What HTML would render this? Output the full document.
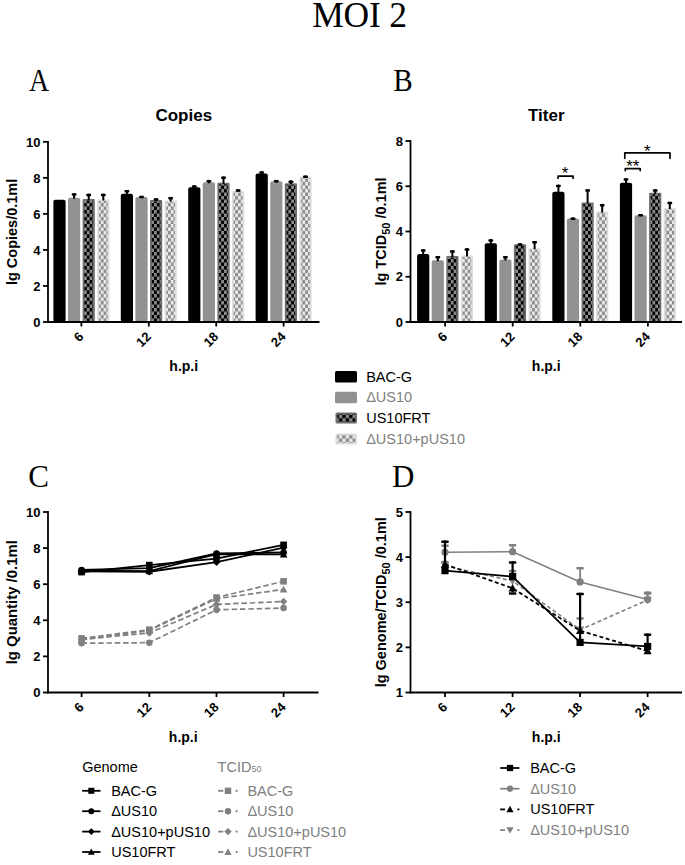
<!DOCTYPE html>
<html><head><meta charset="utf-8"><title>MOI 2</title>
<style>
html,body{margin:0;padding:0;background:#fff;}
body{width:685px;height:865px;overflow:hidden;}
svg{display:block;}
text{font-family:"Liberation Sans", sans-serif;}
.tl{font-size:13px;font-weight:bold;}
.yl{font-size:14.5px;font-weight:bold;}
.xl{font-size:14px;font-weight:bold;}
.ct{font-size:17px;font-weight:bold;}
.st{font-size:17px;}
.lg{font-size:14.5px;}
.pl{font-family:"Liberation Serif", serif;font-size:31px;}
.ti{font-family:"Liberation Serif", serif;font-size:35.5px;}
</style></head>
<body>
<svg width="685" height="865" viewBox="0 0 685 865">
<defs>
<pattern id="pdark" patternUnits="userSpaceOnUse" width="5.6" height="7" x="0" y="0">
<rect width="5.6" height="7" fill="#8a8a8a"/>
<rect x="0" y="0" width="2.8" height="3.5" fill="#000"/>
<rect x="2.8" y="3.5" width="2.8" height="3.5" fill="#000"/>
</pattern>
<pattern id="plight" patternUnits="userSpaceOnUse" width="5.6" height="7" x="0" y="0">
<rect width="5.6" height="7" fill="#e8e8e8"/>
<rect x="0" y="0" width="2.8" height="3.5" fill="#8e8e8e"/>
<rect x="2.8" y="3.5" width="2.8" height="3.5" fill="#8e8e8e"/>
</pattern>
<pattern id="pdarkL" patternUnits="userSpaceOnUse" width="6.8" height="6.8" x="335.5" y="0">
<rect width="6.8" height="6.8" fill="#8a8a8a"/>
<rect x="0" y="0" width="3.4" height="3.4" fill="#000"/>
<rect x="3.4" y="3.4" width="3.4" height="3.4" fill="#000"/>
</pattern>
<pattern id="plightL" patternUnits="userSpaceOnUse" width="6.8" height="6.8" x="335.5" y="0">
<rect width="6.8" height="6.8" fill="#e8e8e8"/>
<rect x="0" y="0" width="3.4" height="3.4" fill="#8e8e8e"/>
<rect x="3.4" y="3.4" width="3.4" height="3.4" fill="#8e8e8e"/>
</pattern>
</defs>
<rect width="685" height="865" fill="#fff"/>
<text x="359.5" y="26.6" text-anchor="middle" class="ti" letter-spacing="-0.2">MOI 2</text>
<text transform="translate(29,90.9) scale(0.9,1)" class="pl">A</text>
<text transform="translate(393.3,90.9) scale(0.94,1)" class="pl">B</text>
<text transform="translate(28.3,487.2) scale(1.0,1)" class="pl">C</text>
<text transform="translate(392,486.6) scale(1.0,1)" class="pl">D</text>
<text x="183.75" y="120.5" text-anchor="middle" class="ct">Copies</text>
<rect x="53.4" y="199.85" width="12.2" height="122.15" fill="#000" rx="2"/>
<rect x="68" y="197.67" width="12.2" height="124.33" fill="#929292" rx="2"/>
<line x1="74.1" y1="198.67" x2="74.1" y2="193.14" stroke="#000" stroke-width="2.0"/>
<rect x="71.7" y="193.14" width="4.8" height="2.5" rx="0.8" fill="#000"/>
<rect x="82.6" y="198.94" width="12.2" height="123.06" fill="#6e6e6e" rx="1"/>
<rect x="84.4" y="200.44" width="8.6" height="121.56" fill="url(#pdark)"/>
<line x1="88.7" y1="199.94" x2="88.7" y2="193.68" stroke="#000" stroke-width="2.0"/>
<rect x="86.3" y="193.68" width="4.8" height="2.5" rx="0.8" fill="#000"/>
<rect x="97.2" y="199.49" width="12.2" height="122.51" fill="#dcdcdc" rx="1"/>
<rect x="99" y="200.99" width="8.6" height="121.01" fill="url(#plight)"/>
<line x1="103.3" y1="200.49" x2="103.3" y2="193.68" stroke="#000" stroke-width="2.0"/>
<rect x="100.9" y="193.68" width="4.8" height="2.5" rx="0.8" fill="#000"/>
<rect x="120.8" y="193.86" width="12.2" height="128.14" fill="#000" rx="2"/>
<line x1="126.9" y1="194.86" x2="126.9" y2="190.05" stroke="#000" stroke-width="2.0"/>
<rect x="124.5" y="190.05" width="4.8" height="2.5" rx="0.8" fill="#000"/>
<rect x="135.4" y="196.95" width="12.2" height="125.05" fill="#929292" rx="2"/>
<line x1="141.5" y1="197.95" x2="141.5" y2="195.86" stroke="#000" stroke-width="2.0"/>
<rect x="139.1" y="195.86" width="4.8" height="2.5" rx="0.8" fill="#000"/>
<rect x="150" y="200.03" width="12.2" height="121.97" fill="#6e6e6e" rx="1"/>
<rect x="151.8" y="201.53" width="8.6" height="120.47" fill="url(#pdark)"/>
<line x1="156.1" y1="201.03" x2="156.1" y2="198.22" stroke="#000" stroke-width="2.0"/>
<rect x="153.7" y="198.22" width="4.8" height="2.5" rx="0.8" fill="#000"/>
<rect x="164.6" y="200.58" width="12.2" height="121.42" fill="#dcdcdc" rx="1"/>
<rect x="166.4" y="202.08" width="8.6" height="119.92" fill="url(#plight)"/>
<line x1="170.7" y1="201.58" x2="170.7" y2="196.95" stroke="#000" stroke-width="2.0"/>
<rect x="168.3" y="196.95" width="4.8" height="2.5" rx="0.8" fill="#000"/>
<rect x="188.2" y="187.33" width="12.2" height="134.67" fill="#000" rx="2"/>
<line x1="194.3" y1="188.33" x2="194.3" y2="185.33" stroke="#000" stroke-width="2.0"/>
<rect x="191.9" y="185.33" width="4.8" height="2.5" rx="0.8" fill="#000"/>
<rect x="202.8" y="182.25" width="12.2" height="139.75" fill="#929292" rx="2"/>
<line x1="208.9" y1="183.25" x2="208.9" y2="179.89" stroke="#000" stroke-width="2.0"/>
<rect x="206.5" y="179.89" width="4.8" height="2.5" rx="0.8" fill="#000"/>
<rect x="217.4" y="182.79" width="12.2" height="139.21" fill="#6e6e6e" rx="1"/>
<rect x="219.2" y="184.29" width="8.6" height="137.71" fill="url(#pdark)"/>
<line x1="223.5" y1="183.79" x2="223.5" y2="176.44" stroke="#000" stroke-width="2.0"/>
<rect x="221.1" y="176.44" width="4.8" height="2.5" rx="0.8" fill="#000"/>
<rect x="232" y="190.96" width="12.2" height="131.04" fill="#dcdcdc" rx="1"/>
<rect x="233.8" y="192.46" width="8.6" height="129.54" fill="url(#plight)"/>
<line x1="238.1" y1="191.96" x2="238.1" y2="189.32" stroke="#000" stroke-width="2.0"/>
<rect x="235.7" y="189.32" width="4.8" height="2.5" rx="0.8" fill="#000"/>
<rect x="255.6" y="173.53" width="12.2" height="148.47" fill="#000" rx="2"/>
<line x1="261.7" y1="174.53" x2="261.7" y2="171.35" stroke="#000" stroke-width="2.0"/>
<rect x="259.3" y="171.35" width="4.8" height="2.5" rx="0.8" fill="#000"/>
<rect x="270.2" y="181.16" width="12.2" height="140.84" fill="#929292" rx="2"/>
<line x1="276.3" y1="182.16" x2="276.3" y2="179.89" stroke="#000" stroke-width="2.0"/>
<rect x="273.9" y="179.89" width="4.8" height="2.5" rx="0.8" fill="#000"/>
<rect x="284.8" y="183.15" width="12.2" height="138.85" fill="#6e6e6e" rx="1"/>
<rect x="286.6" y="184.65" width="8.6" height="137.35" fill="url(#pdark)"/>
<line x1="290.9" y1="184.15" x2="290.9" y2="180.43" stroke="#000" stroke-width="2.0"/>
<rect x="288.5" y="180.43" width="4.8" height="2.5" rx="0.8" fill="#000"/>
<rect x="299.4" y="176.44" width="12.2" height="145.56" fill="#dcdcdc" rx="1"/>
<rect x="301.2" y="177.94" width="8.6" height="144.06" fill="url(#plight)"/>
<line x1="305.5" y1="177.44" x2="305.5" y2="175.53" stroke="#000" stroke-width="2.0"/>
<rect x="303.1" y="175.53" width="4.8" height="2.5" rx="0.8" fill="#000"/>
<line x1="48" y1="140.9" x2="48" y2="322.9" stroke="#000" stroke-width="1.8"/>
<line x1="47.1" y1="322" x2="319.5" y2="322" stroke="#000" stroke-width="1.8"/>
<line x1="43" y1="322" x2="48" y2="322" stroke="#000" stroke-width="1.8"/>
<text x="40.5" y="326.7" text-anchor="end" class="tl">0</text>
<line x1="43" y1="285.96" x2="48" y2="285.96" stroke="#000" stroke-width="1.8"/>
<text x="40.5" y="290.66" text-anchor="end" class="tl">2</text>
<line x1="43" y1="249.92" x2="48" y2="249.92" stroke="#000" stroke-width="1.8"/>
<text x="40.5" y="254.62" text-anchor="end" class="tl">4</text>
<line x1="43" y1="213.88" x2="48" y2="213.88" stroke="#000" stroke-width="1.8"/>
<text x="40.5" y="218.58" text-anchor="end" class="tl">6</text>
<line x1="43" y1="177.84" x2="48" y2="177.84" stroke="#000" stroke-width="1.8"/>
<text x="40.5" y="182.54" text-anchor="end" class="tl">8</text>
<line x1="43" y1="141.8" x2="48" y2="141.8" stroke="#000" stroke-width="1.8"/>
<text x="40.5" y="146.5" text-anchor="end" class="tl">10</text>
<line x1="81.4" y1="322" x2="81.4" y2="326.5" stroke="#000" stroke-width="1.8"/>
<text transform="translate(84.4,337.5) rotate(-45)" text-anchor="end" class="tl">6</text>
<line x1="148.8" y1="322" x2="148.8" y2="326.5" stroke="#000" stroke-width="1.8"/>
<text transform="translate(151.8,337.5) rotate(-45)" text-anchor="end" class="tl">12</text>
<line x1="216.2" y1="322" x2="216.2" y2="326.5" stroke="#000" stroke-width="1.8"/>
<text transform="translate(219.2,337.5) rotate(-45)" text-anchor="end" class="tl">18</text>
<line x1="283.6" y1="322" x2="283.6" y2="326.5" stroke="#000" stroke-width="1.8"/>
<text transform="translate(286.6,337.5) rotate(-45)" text-anchor="end" class="tl">24</text>
<text transform="translate(17.2,231.9) rotate(-90)" text-anchor="middle" class="yl">lg Copies/0.1ml</text>
<text x="183.75" y="371" text-anchor="middle" class="xl">h.p.i</text>
<text x="546.25" y="120.5" text-anchor="middle" class="ct">Titer</text>
<rect x="417.1" y="254.12" width="12.2" height="67.88" fill="#000" rx="2"/>
<line x1="423.2" y1="255.12" x2="423.2" y2="249.37" stroke="#000" stroke-width="2.0"/>
<rect x="420.8" y="249.37" width="4.8" height="2.5" rx="0.8" fill="#000"/>
<rect x="431.7" y="260.23" width="12.2" height="61.77" fill="#929292" rx="2"/>
<line x1="437.8" y1="261.23" x2="437.8" y2="255.94" stroke="#000" stroke-width="2.0"/>
<rect x="435.4" y="255.94" width="4.8" height="2.5" rx="0.8" fill="#000"/>
<rect x="446.3" y="255.94" width="12.2" height="66.06" fill="#6e6e6e" rx="1"/>
<rect x="448.1" y="257.44" width="8.6" height="64.56" fill="url(#pdark)"/>
<line x1="452.4" y1="256.94" x2="452.4" y2="250.28" stroke="#000" stroke-width="2.0"/>
<rect x="450" y="250.28" width="4.8" height="2.5" rx="0.8" fill="#000"/>
<rect x="460.9" y="255.48" width="12.2" height="66.52" fill="#dcdcdc" rx="1"/>
<rect x="462.7" y="256.98" width="8.6" height="65.02" fill="url(#plight)"/>
<line x1="467" y1="256.48" x2="467" y2="248.24" stroke="#000" stroke-width="2.0"/>
<rect x="464.6" y="248.24" width="4.8" height="2.5" rx="0.8" fill="#000"/>
<rect x="484.7" y="243.26" width="12.2" height="78.74" fill="#000" rx="2"/>
<line x1="490.8" y1="244.26" x2="490.8" y2="239.19" stroke="#000" stroke-width="2.0"/>
<rect x="488.4" y="239.19" width="4.8" height="2.5" rx="0.8" fill="#000"/>
<rect x="499.3" y="259.56" width="12.2" height="62.44" fill="#929292" rx="2"/>
<line x1="505.4" y1="260.56" x2="505.4" y2="255.94" stroke="#000" stroke-width="2.0"/>
<rect x="503" y="255.94" width="4.8" height="2.5" rx="0.8" fill="#000"/>
<rect x="513.9" y="244.17" width="12.2" height="77.83" fill="#6e6e6e" rx="1"/>
<rect x="515.7" y="245.67" width="8.6" height="76.33" fill="url(#pdark)"/>
<line x1="520" y1="245.17" x2="520" y2="243.26" stroke="#000" stroke-width="2.0"/>
<rect x="517.6" y="243.26" width="4.8" height="2.5" rx="0.8" fill="#000"/>
<rect x="528.5" y="248.24" width="12.2" height="73.76" fill="#dcdcdc" rx="1"/>
<rect x="530.3" y="249.74" width="8.6" height="72.26" fill="url(#plight)"/>
<line x1="534.6" y1="249.24" x2="534.6" y2="241" stroke="#000" stroke-width="2.0"/>
<rect x="532.2" y="241" width="4.8" height="2.5" rx="0.8" fill="#000"/>
<rect x="552.3" y="191.68" width="12.2" height="130.32" fill="#000" rx="2"/>
<line x1="558.4" y1="192.68" x2="558.4" y2="184.67" stroke="#000" stroke-width="2.0"/>
<rect x="556" y="184.67" width="4.8" height="2.5" rx="0.8" fill="#000"/>
<rect x="566.9" y="218.38" width="12.2" height="103.62" fill="#929292" rx="2"/>
<line x1="573" y1="219.38" x2="573" y2="217.47" stroke="#000" stroke-width="2.0"/>
<rect x="570.6" y="217.47" width="4.8" height="2.5" rx="0.8" fill="#000"/>
<rect x="581.5" y="202.54" width="12.2" height="119.46" fill="#6e6e6e" rx="1"/>
<rect x="583.3" y="204.04" width="8.6" height="117.96" fill="url(#pdark)"/>
<line x1="587.6" y1="203.54" x2="587.6" y2="189.19" stroke="#000" stroke-width="2.0"/>
<rect x="585.2" y="189.19" width="4.8" height="2.5" rx="0.8" fill="#000"/>
<rect x="596.1" y="211.59" width="12.2" height="110.41" fill="#dcdcdc" rx="1"/>
<rect x="597.9" y="213.09" width="8.6" height="108.91" fill="url(#plight)"/>
<line x1="602.2" y1="212.59" x2="602.2" y2="203.9" stroke="#000" stroke-width="2.0"/>
<rect x="599.8" y="203.9" width="4.8" height="2.5" rx="0.8" fill="#000"/>
<rect x="619.9" y="182.63" width="12.2" height="139.37" fill="#000" rx="2"/>
<line x1="626" y1="183.63" x2="626" y2="178.33" stroke="#000" stroke-width="2.0"/>
<rect x="623.6" y="178.33" width="4.8" height="2.5" rx="0.8" fill="#000"/>
<rect x="634.5" y="215.21" width="12.2" height="106.79" fill="#929292" rx="2"/>
<line x1="640.6" y1="216.21" x2="640.6" y2="214.08" stroke="#000" stroke-width="2.0"/>
<rect x="638.2" y="214.08" width="4.8" height="2.5" rx="0.8" fill="#000"/>
<rect x="649.1" y="192.81" width="12.2" height="129.19" fill="#6e6e6e" rx="1"/>
<rect x="650.9" y="194.31" width="8.6" height="127.69" fill="url(#pdark)"/>
<line x1="655.2" y1="193.81" x2="655.2" y2="189.19" stroke="#000" stroke-width="2.0"/>
<rect x="652.8" y="189.19" width="4.8" height="2.5" rx="0.8" fill="#000"/>
<rect x="663.7" y="207.97" width="12.2" height="114.03" fill="#dcdcdc" rx="1"/>
<rect x="665.5" y="209.47" width="8.6" height="112.53" fill="url(#plight)"/>
<line x1="669.8" y1="208.97" x2="669.8" y2="201.86" stroke="#000" stroke-width="2.0"/>
<rect x="667.4" y="201.86" width="4.8" height="2.5" rx="0.8" fill="#000"/>
<line x1="410.5" y1="140.1" x2="410.5" y2="322.9" stroke="#000" stroke-width="1.8"/>
<line x1="409.6" y1="322" x2="682" y2="322" stroke="#000" stroke-width="1.8"/>
<line x1="405.5" y1="322" x2="410.5" y2="322" stroke="#000" stroke-width="1.8"/>
<text x="403" y="326.7" text-anchor="end" class="tl">0</text>
<line x1="405.5" y1="276.75" x2="410.5" y2="276.75" stroke="#000" stroke-width="1.8"/>
<text x="403" y="281.45" text-anchor="end" class="tl">2</text>
<line x1="405.5" y1="231.5" x2="410.5" y2="231.5" stroke="#000" stroke-width="1.8"/>
<text x="403" y="236.2" text-anchor="end" class="tl">4</text>
<line x1="405.5" y1="186.25" x2="410.5" y2="186.25" stroke="#000" stroke-width="1.8"/>
<text x="403" y="190.95" text-anchor="end" class="tl">6</text>
<line x1="405.5" y1="141" x2="410.5" y2="141" stroke="#000" stroke-width="1.8"/>
<text x="403" y="145.7" text-anchor="end" class="tl">8</text>
<line x1="445.1" y1="322" x2="445.1" y2="326.5" stroke="#000" stroke-width="1.8"/>
<text transform="translate(448.1,337.5) rotate(-45)" text-anchor="end" class="tl">6</text>
<line x1="512.7" y1="322" x2="512.7" y2="326.5" stroke="#000" stroke-width="1.8"/>
<text transform="translate(515.7,337.5) rotate(-45)" text-anchor="end" class="tl">12</text>
<line x1="580.3" y1="322" x2="580.3" y2="326.5" stroke="#000" stroke-width="1.8"/>
<text transform="translate(583.3,337.5) rotate(-45)" text-anchor="end" class="tl">18</text>
<line x1="647.9" y1="322" x2="647.9" y2="326.5" stroke="#000" stroke-width="1.8"/>
<text transform="translate(650.9,337.5) rotate(-45)" text-anchor="end" class="tl">24</text>
<text transform="translate(386.4,231.5) rotate(-90)" text-anchor="middle" class="yl">lg TCID<tspan font-size="11" dy="3.4">50</tspan><tspan dy="-3.4"> /0.1ml</tspan></text>
<text x="546.25" y="371" text-anchor="middle" class="xl">h.p.i</text>
<path d="M558.1,178.2 L558.1,176.1 L573.1,176.1 L573.1,178.2" fill="none" stroke="#000" stroke-width="1.7" stroke-linejoin="round" stroke-linecap="round"/>
<text x="565.1" y="178.5" text-anchor="middle" class="st">*</text>
<path d="M625.3,170.6 L625.3,168.6 L640.2,168.6 L640.2,170.6" fill="none" stroke="#000" stroke-width="1.7" stroke-linejoin="round" stroke-linecap="round"/>
<text x="632.8" y="171.5" text-anchor="middle" class="st">**</text>
<path d="M624.8,158.3 L624.8,152.9 L670,152.9 L670,158.3" fill="none" stroke="#000" stroke-width="1.7" stroke-linejoin="round" stroke-linecap="round"/>
<text x="647.3" y="157.3" text-anchor="middle" class="st">*</text>
<rect x="335" y="371" width="22" height="11.5" rx="1.5" fill="#000"/>
<text x="366.2" y="381.6" class="lg" fill="#000">BAC-G</text>
<rect x="335" y="391.8" width="22" height="11.5" rx="1.5" fill="#929292"/>
<text x="366.2" y="402.4" class="lg" fill="#808080">ΔUS10</text>
<rect x="335.5" y="412.6" width="21.5" height="11" rx="1.5" fill="#6e6e6e"/>
<rect x="337.2" y="414.3" width="18" height="7.6" fill="url(#pdarkL)"/>
<text x="366.2" y="423.2" class="lg" fill="#000">US10FRT</text>
<rect x="335.5" y="433.4" width="21.5" height="11" rx="1.5" fill="#dcdcdc"/>
<rect x="337.2" y="435.1" width="18" height="7.6" fill="url(#plightL)"/>
<text x="366.2" y="444" class="lg" fill="#808080">ΔUS10+pUS10</text>
<line x1="48" y1="511.1" x2="48" y2="693.4" stroke="#000" stroke-width="1.8"/>
<line x1="47.1" y1="692.5" x2="318.5" y2="692.5" stroke="#000" stroke-width="1.8"/>
<line x1="43" y1="692.5" x2="48" y2="692.5" stroke="#000" stroke-width="1.8"/>
<text x="40.5" y="697.2" text-anchor="end" class="tl">0</text>
<line x1="43" y1="656.4" x2="48" y2="656.4" stroke="#000" stroke-width="1.8"/>
<text x="40.5" y="661.1" text-anchor="end" class="tl">2</text>
<line x1="43" y1="620.3" x2="48" y2="620.3" stroke="#000" stroke-width="1.8"/>
<text x="40.5" y="625" text-anchor="end" class="tl">4</text>
<line x1="43" y1="584.2" x2="48" y2="584.2" stroke="#000" stroke-width="1.8"/>
<text x="40.5" y="588.9" text-anchor="end" class="tl">6</text>
<line x1="43" y1="548.1" x2="48" y2="548.1" stroke="#000" stroke-width="1.8"/>
<text x="40.5" y="552.8" text-anchor="end" class="tl">8</text>
<line x1="43" y1="512" x2="48" y2="512" stroke="#000" stroke-width="1.8"/>
<text x="40.5" y="516.7" text-anchor="end" class="tl">10</text>
<line x1="81.6" y1="692.5" x2="81.6" y2="697" stroke="#000" stroke-width="1.8"/>
<text transform="translate(84.6,708) rotate(-45)" text-anchor="end" class="tl">6</text>
<line x1="149.3" y1="692.5" x2="149.3" y2="697" stroke="#000" stroke-width="1.8"/>
<text transform="translate(152.3,708) rotate(-45)" text-anchor="end" class="tl">12</text>
<line x1="216.5" y1="692.5" x2="216.5" y2="697" stroke="#000" stroke-width="1.8"/>
<text transform="translate(219.5,708) rotate(-45)" text-anchor="end" class="tl">18</text>
<line x1="283.6" y1="692.5" x2="283.6" y2="697" stroke="#000" stroke-width="1.8"/>
<text transform="translate(286.6,708) rotate(-45)" text-anchor="end" class="tl">24</text>
<text transform="translate(17.2,602.25) rotate(-90)" text-anchor="middle" class="yl" style="font-size:14.9px">lg Quantity /0.1ml</text>
<text x="183.25" y="742" text-anchor="middle" class="xl">h.p.i</text>
<polyline points="81.6,643.22 149.3,642.68 216.5,609.83 283.6,608.03" fill="none" stroke="#808080" stroke-width="1.7" stroke-dasharray="5.5,2.8"/>
<circle cx="81.6" cy="643.22" r="3.3" fill="#808080"/>
<circle cx="149.3" cy="642.68" r="3.3" fill="#808080"/>
<circle cx="216.5" cy="609.83" r="3.3" fill="#808080"/>
<circle cx="283.6" cy="608.03" r="3.3" fill="#808080"/>
<polyline points="81.6,639.43 149.3,632.93 216.5,604.42 283.6,601.53" fill="none" stroke="#808080" stroke-width="1.7" stroke-dasharray="5.5,2.8"/>
<path d="M81.6,635.64 L85.39,639.43 L81.6,643.23 L77.8,639.43Z" fill="#808080"/>
<path d="M149.3,629.14 L153.09,632.93 L149.3,636.73 L145.51,632.93Z" fill="#808080"/>
<path d="M216.5,600.62 L220.29,604.42 L216.5,608.21 L212.71,604.42Z" fill="#808080"/>
<path d="M283.6,597.73 L287.4,601.53 L283.6,605.32 L279.81,601.53Z" fill="#808080"/>
<polyline points="81.6,639.79 149.3,630.41 216.5,598.64 283.6,589.43" fill="none" stroke="#808080" stroke-width="1.7" stroke-dasharray="5.5,2.8"/>
<path d="M81.6,636 L85.39,642.83 L77.8,642.83Z" fill="#808080"/>
<path d="M149.3,626.61 L153.09,633.44 L145.51,633.44Z" fill="#808080"/>
<path d="M216.5,594.85 L220.29,601.68 L212.71,601.68Z" fill="#808080"/>
<path d="M283.6,585.64 L287.4,592.47 L279.81,592.47Z" fill="#808080"/>
<polyline points="81.6,638.35 149.3,629.69 216.5,597.56 283.6,581.31" fill="none" stroke="#808080" stroke-width="1.7" stroke-dasharray="5.5,2.8"/>
<rect x="78.3" y="635.05" width="6.6" height="6.6" fill="#808080"/>
<rect x="146" y="626.39" width="6.6" height="6.6" fill="#808080"/>
<rect x="213.2" y="594.26" width="6.6" height="6.6" fill="#808080"/>
<rect x="280.3" y="578.01" width="6.6" height="6.6" fill="#808080"/>
<polyline points="81.6,569.94 149.3,568.14 216.5,553.51 283.6,552.43" fill="none" stroke="#000" stroke-width="1.8"/>
<circle cx="81.6" cy="569.94" r="3.3" fill="#000"/>
<circle cx="149.3" cy="568.14" r="3.3" fill="#000"/>
<circle cx="216.5" cy="553.51" r="3.3" fill="#000"/>
<circle cx="283.6" cy="552.43" r="3.3" fill="#000"/>
<polyline points="81.6,571.38 149.3,571.75 216.5,562.18 283.6,547.74" fill="none" stroke="#000" stroke-width="1.8"/>
<path d="M81.6,567.59 L85.39,571.38 L81.6,575.18 L77.8,571.38Z" fill="#000"/>
<path d="M149.3,567.95 L153.09,571.75 L149.3,575.54 L145.51,571.75Z" fill="#000"/>
<path d="M216.5,558.38 L220.29,562.18 L216.5,565.97 L212.71,562.18Z" fill="#000"/>
<path d="M283.6,543.94 L287.4,547.74 L283.6,551.53 L279.81,547.74Z" fill="#000"/>
<polyline points="81.6,570.66 149.3,571.2 216.5,554.06 283.6,554.42" fill="none" stroke="#000" stroke-width="1.8"/>
<path d="M81.6,566.87 L85.39,573.7 L77.8,573.7Z" fill="#000"/>
<path d="M149.3,567.41 L153.09,574.24 L145.51,574.24Z" fill="#000"/>
<path d="M216.5,550.26 L220.29,557.09 L212.71,557.09Z" fill="#000"/>
<path d="M283.6,550.62 L287.4,557.45 L279.81,557.45Z" fill="#000"/>
<polyline points="81.6,572.11 149.3,565.07 216.5,558.57 283.6,544.85" fill="none" stroke="#000" stroke-width="1.8"/>
<rect x="78.3" y="568.81" width="6.6" height="6.6" fill="#000"/>
<rect x="146" y="561.77" width="6.6" height="6.6" fill="#000"/>
<rect x="213.2" y="555.27" width="6.6" height="6.6" fill="#000"/>
<rect x="280.3" y="541.55" width="6.6" height="6.6" fill="#000"/>
<line x1="410.5" y1="511.1" x2="410.5" y2="693.4" stroke="#000" stroke-width="1.8"/>
<line x1="409.6" y1="692.5" x2="682" y2="692.5" stroke="#000" stroke-width="1.8"/>
<line x1="405.5" y1="692.5" x2="410.5" y2="692.5" stroke="#000" stroke-width="1.8"/>
<text x="403" y="697.2" text-anchor="end" class="tl">1</text>
<line x1="405.5" y1="647.38" x2="410.5" y2="647.38" stroke="#000" stroke-width="1.8"/>
<text x="403" y="652.08" text-anchor="end" class="tl">2</text>
<line x1="405.5" y1="602.25" x2="410.5" y2="602.25" stroke="#000" stroke-width="1.8"/>
<text x="403" y="606.95" text-anchor="end" class="tl">3</text>
<line x1="405.5" y1="557.12" x2="410.5" y2="557.12" stroke="#000" stroke-width="1.8"/>
<text x="403" y="561.83" text-anchor="end" class="tl">4</text>
<line x1="405.5" y1="512" x2="410.5" y2="512" stroke="#000" stroke-width="1.8"/>
<text x="403" y="516.7" text-anchor="end" class="tl">5</text>
<line x1="445" y1="692.5" x2="445" y2="697" stroke="#000" stroke-width="1.8"/>
<text transform="translate(448,708) rotate(-45)" text-anchor="end" class="tl">6</text>
<line x1="512.6" y1="692.5" x2="512.6" y2="697" stroke="#000" stroke-width="1.8"/>
<text transform="translate(515.6,708) rotate(-45)" text-anchor="end" class="tl">12</text>
<line x1="580.1" y1="692.5" x2="580.1" y2="697" stroke="#000" stroke-width="1.8"/>
<text transform="translate(583.1,708) rotate(-45)" text-anchor="end" class="tl">18</text>
<line x1="647.6" y1="692.5" x2="647.6" y2="697" stroke="#000" stroke-width="1.8"/>
<text transform="translate(650.6,708) rotate(-45)" text-anchor="end" class="tl">24</text>
<text transform="translate(386.4,602.25) rotate(-90)" text-anchor="middle" class="yl">lg Genome/TCID<tspan font-size="11" dy="3.4">50</tspan><tspan dy="-3.4"> /0.1ml</tspan></text>
<text x="546.25" y="742" text-anchor="middle" class="xl">h.p.i</text>
<line x1="445" y1="565.7" x2="445" y2="560.74" stroke="#808080" stroke-width="1.8"/>
<rect x="441.25" y="560.74" width="7.5" height="2.5" rx="0.8" fill="#808080"/>
<line x1="512.6" y1="581.04" x2="512.6" y2="569.76" stroke="#808080" stroke-width="1.8"/>
<rect x="508.85" y="569.76" width="7.5" height="2.5" rx="0.8" fill="#808080"/>
<line x1="580.1" y1="629.78" x2="580.1" y2="617.14" stroke="#808080" stroke-width="1.8"/>
<rect x="576.35" y="617.14" width="7.5" height="2.5" rx="0.8" fill="#808080"/>
<line x1="647.6" y1="599.99" x2="647.6" y2="591.42" stroke="#808080" stroke-width="1.8"/>
<rect x="643.85" y="591.42" width="7.5" height="2.5" rx="0.8" fill="#808080"/>
<polyline points="445,565.7 512.6,581.04 580.1,629.78 647.6,599.99" fill="none" stroke="#808080" stroke-width="1.6" stroke-dasharray="4,2.6"/>
<path d="M445,569.84 L449.14,562.39 L440.86,562.39Z" fill="#808080"/>
<path d="M512.6,585.18 L516.74,577.73 L508.46,577.73Z" fill="#808080"/>
<path d="M580.1,633.92 L584.24,626.46 L575.96,626.46Z" fill="#808080"/>
<path d="M647.6,604.13 L651.74,596.68 L643.46,596.68Z" fill="#808080"/>
<line x1="445" y1="552.16" x2="445" y2="544.49" stroke="#808080" stroke-width="1.8"/>
<rect x="441.25" y="544.49" width="7.5" height="2.5" rx="0.8" fill="#808080"/>
<line x1="512.6" y1="551.71" x2="512.6" y2="544.04" stroke="#808080" stroke-width="1.8"/>
<rect x="508.85" y="544.04" width="7.5" height="2.5" rx="0.8" fill="#808080"/>
<line x1="580.1" y1="581.94" x2="580.1" y2="567.05" stroke="#808080" stroke-width="1.8"/>
<rect x="576.35" y="567.05" width="7.5" height="2.5" rx="0.8" fill="#808080"/>
<line x1="647.6" y1="599.54" x2="647.6" y2="592.32" stroke="#808080" stroke-width="1.8"/>
<rect x="643.85" y="592.32" width="7.5" height="2.5" rx="0.8" fill="#808080"/>
<polyline points="445,552.16 512.6,551.71 580.1,581.94 647.6,599.54" fill="none" stroke="#808080" stroke-width="1.5"/>
<circle cx="445" cy="552.16" r="3.6" fill="#808080"/>
<circle cx="512.6" cy="551.71" r="3.6" fill="#808080"/>
<circle cx="580.1" cy="581.94" r="3.6" fill="#808080"/>
<circle cx="647.6" cy="599.54" r="3.6" fill="#808080"/>
<line x1="445" y1="564.35" x2="445" y2="540.43" stroke="#000" stroke-width="2.2"/>
<rect x="441.25" y="540.43" width="7.5" height="2.5" rx="0.8" fill="#000"/>
<line x1="512.6" y1="588.26" x2="512.6" y2="592.32" stroke="#000" stroke-width="2.2"/>
<rect x="508.85" y="592.32" width="7.5" height="2.5" rx="0.8" fill="#000"/>
<polyline points="445,564.35 512.6,588.26 580.1,630.68 647.6,650.99" fill="none" stroke="#000" stroke-width="1.8" stroke-dasharray="4,2.6"/>
<path d="M445,560.21 L449.14,567.66 L440.86,567.66Z" fill="#000"/>
<path d="M512.6,584.12 L516.74,591.57 L508.46,591.57Z" fill="#000"/>
<path d="M580.1,626.54 L584.24,633.99 L575.96,633.99Z" fill="#000"/>
<path d="M647.6,646.85 L651.74,654.3 L643.46,654.3Z" fill="#000"/>
<line x1="512.6" y1="576.53" x2="512.6" y2="561.19" stroke="#000" stroke-width="2.2"/>
<rect x="508.85" y="561.19" width="7.5" height="2.5" rx="0.8" fill="#000"/>
<line x1="580.1" y1="642.41" x2="580.1" y2="592.77" stroke="#000" stroke-width="2.2"/>
<rect x="576.35" y="592.77" width="7.5" height="2.5" rx="0.8" fill="#000"/>
<line x1="647.6" y1="646.47" x2="647.6" y2="633.39" stroke="#000" stroke-width="2.2"/>
<rect x="643.85" y="633.39" width="7.5" height="2.5" rx="0.8" fill="#000"/>
<polyline points="445,570.66 512.6,576.53 580.1,642.41 647.6,646.47" fill="none" stroke="#000" stroke-width="1.8"/>
<rect x="441.4" y="567.06" width="7.2" height="7.2" fill="#000"/>
<rect x="509" y="572.93" width="7.2" height="7.2" fill="#000"/>
<rect x="576.5" y="638.81" width="7.2" height="7.2" fill="#000"/>
<rect x="644" y="642.87" width="7.2" height="7.2" fill="#000"/>
<text x="82.2" y="771.8" class="lg">Genome</text>
<text x="217.6" y="771.8" class="lg" fill="#808080">TCID<tspan font-size="9">50</tspan></text>
<line x1="82.2" y1="790.8" x2="100.5" y2="790.8" stroke="#000" stroke-width="1.8"/>
<rect x="88.3" y="787.8" width="6" height="6" fill="#000"/>
<text x="111.2" y="795.8" class="lg">BAC-G</text>
<line x1="218.2" y1="790.8" x2="223.3" y2="790.8" stroke="#808080" stroke-width="1.8"/>
<line x1="235.6" y1="790.8" x2="237.6" y2="790.8" stroke="#808080" stroke-width="1.8"/>
<rect x="224.8" y="787.6" width="6.4" height="6.4" fill="#808080"/>
<text x="247.4" y="795.8" class="lg" fill="#808080">BAC-G</text>
<line x1="82.2" y1="811.2" x2="100.5" y2="811.2" stroke="#000" stroke-width="1.8"/>
<circle cx="91.3" cy="811.2" r="3" fill="#000"/>
<text x="111.2" y="816.2" class="lg">ΔUS10</text>
<line x1="218.2" y1="811.2" x2="223.3" y2="811.2" stroke="#808080" stroke-width="1.8"/>
<line x1="235.6" y1="811.2" x2="237.6" y2="811.2" stroke="#808080" stroke-width="1.8"/>
<circle cx="228" cy="811.2" r="3.2" fill="#808080"/>
<text x="247.4" y="816.2" class="lg" fill="#808080">ΔUS10</text>
<line x1="82.2" y1="831.6" x2="100.5" y2="831.6" stroke="#000" stroke-width="1.8"/>
<path d="M91.3,828.15 L94.75,831.6 L91.3,835.05 L87.85,831.6Z" fill="#000"/>
<text x="111.2" y="836.6" class="lg">ΔUS10+pUS10</text>
<line x1="218.2" y1="831.6" x2="223.3" y2="831.6" stroke="#808080" stroke-width="1.8"/>
<line x1="235.6" y1="831.6" x2="237.6" y2="831.6" stroke="#808080" stroke-width="1.8"/>
<path d="M228,827.92 L231.68,831.6 L228,835.28 L224.32,831.6Z" fill="#808080"/>
<text x="247.4" y="836.6" class="lg" fill="#808080">ΔUS10+pUS10</text>
<line x1="82.2" y1="852" x2="100.5" y2="852" stroke="#000" stroke-width="1.8"/>
<path d="M91.3,848.55 L94.75,854.76 L87.85,854.76Z" fill="#000"/>
<text x="111.2" y="857" class="lg">US10FRT</text>
<line x1="218.2" y1="852" x2="223.3" y2="852" stroke="#808080" stroke-width="1.8"/>
<line x1="235.6" y1="852" x2="237.6" y2="852" stroke="#808080" stroke-width="1.8"/>
<path d="M228,848.32 L231.68,854.94 L224.32,854.94Z" fill="#808080"/>
<text x="247.4" y="857" class="lg" fill="#808080">US10FRT</text>
<line x1="500.2" y1="768" x2="519.4" y2="768" stroke="#000" stroke-width="1.8"/>
<rect x="506.9" y="764.9" width="6.2" height="6.2" fill="#000"/>
<text x="530.2" y="773" class="lg" fill="#000">BAC-G</text>
<line x1="500.2" y1="788.7" x2="519.4" y2="788.7" stroke="#808080" stroke-width="1.8"/>
<circle cx="510" cy="788.7" r="3.1" fill="#808080"/>
<text x="530.2" y="793.7" class="lg" fill="#808080">ΔUS10</text>
<line x1="500.2" y1="809.4" x2="505" y2="809.4" stroke="#000" stroke-width="1.8"/>
<line x1="517.4" y1="809.4" x2="519.4" y2="809.4" stroke="#000" stroke-width="1.8"/>
<path d="M510,805.83 L513.57,812.25 L506.44,812.25Z" fill="#000"/>
<text x="530.2" y="814.4" class="lg" fill="#000">US10FRT</text>
<line x1="500.2" y1="830.1" x2="505" y2="830.1" stroke="#808080" stroke-width="1.8"/>
<line x1="517.4" y1="830.1" x2="519.4" y2="830.1" stroke="#808080" stroke-width="1.8"/>
<path d="M510,833.67 L513.57,827.25 L506.44,827.25Z" fill="#808080"/>
<text x="530.2" y="835.1" class="lg" fill="#808080">ΔUS10+pUS10</text>
</svg>
</body></html>
